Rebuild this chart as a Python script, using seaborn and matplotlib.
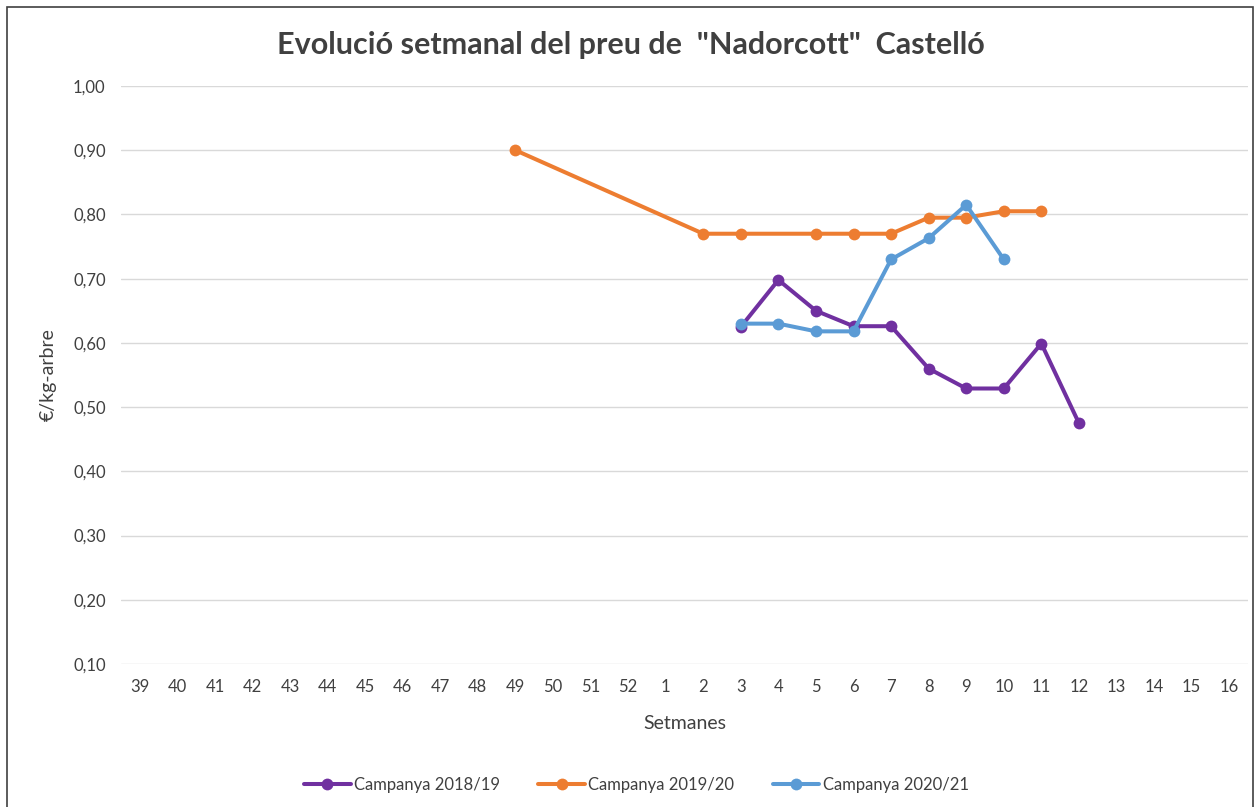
import numpy as np
import pandas as pd
import matplotlib
matplotlib.use("Agg")
import matplotlib.pyplot as plt
import seaborn as sns
from matplotlib.patches import Rectangle

# setmanes de campanya (eix x)
setmanes = ["39", "40", "41", "42", "43", "44", "45", "46", "47", "48", "49", "50", "51", "52",
            "1", "2", "3", "4", "5", "6", "7", "8", "9", "10", "11", "12", "13", "14", "15", "16"]

# preus (€/kg-arbre) per setmana; les setmanes que no hi son no tenen dada
preu_1819 = {"3": 0.625, "4": 0.698, "5": 0.650, "6": 0.626, "7": 0.626, "8": 0.560,
             "9": 0.529, "10": 0.529, "11": 0.599, "12": 0.475}
preu_1920 = {"49": 0.90, "2": 0.77, "3": 0.77, "5": 0.77, "6": 0.77, "7": 0.77,
             "8": 0.795, "9": 0.795, "10": 0.805, "11": 0.805}
preu_2021 = {"3": 0.630, "4": 0.630, "5": 0.618, "6": 0.618, "7": 0.730, "8": 0.763,
             "9": 0.815, "10": 0.730}

campanyes = ["Campanya 2018/19", "Campanya 2019/20", "Campanya 2020/21"]
colors = ["#7030A0", "#ED7D31", "#5B9BD5"]

files = []
for nom, preus in zip(campanyes, [preu_1819, preu_1920, preu_2021]):
    for s, v in preus.items():
        files.append({"Campanya": nom, "pos": setmanes.index(s), "preu": v})
df = pd.DataFrame(files)

sns.set_style("white")
plt.rcParams["font.family"] = ["Lato", "DejaVu Sans"]

fig = plt.figure(figsize=(12.55, 8.07), dpi=100)
ax = fig.add_axes([0.0964, 0.1772, 0.8980, 0.7162])

sns.lineplot(data=df, x="pos", y="preu", hue="Campanya", palette=colors,
             hue_order=campanyes, marker="o", markersize=8.5, markeredgewidth=0,
             linewidth=2.9, sort=True, ax=ax, legend=True)

ax.set_xlim(-0.5, len(setmanes) - 0.5)
ax.set_ylim(0.10, 1.00)
ax.set_xticks(range(len(setmanes)))
ax.set_xticklabels(setmanes)
yt = np.round(np.arange(0.10, 1.001, 0.10), 2)
ax.set_yticks(yt)
ax.set_yticklabels([f"{v:.2f}".replace(".", ",") for v in yt])
ax.tick_params(axis="both", labelsize=12, colors="#404040", length=0, pad=11)
ax.grid(axis="y", color="#D9D9D9", linewidth=1)
ax.set_axisbelow(True)
for sp in ax.spines.values():
    sp.set_visible(False)

ax.set_xlabel("Setmanes", fontsize=14, color="#404040", labelpad=14)
ax.set_ylabel("€/kg-arbre", fontsize=14, color="#404040", labelpad=12)

fig.suptitle('Evolució setmanal del preu de  "Nadorcott"  Castelló', x=0.503, y=0.962,
             fontsize=22, fontweight="bold", color="#404040")

h, l = ax.get_legend_handles_labels()
ax.legend(h, l, loc="center", bbox_to_anchor=(0.507, 0.027), bbox_transform=fig.transFigure,
          ncol=3, frameon=False, fontsize=12, handlelength=2.8, handletextpad=0.2,
          columnspacing=2.3, labelcolor="#404040")

fig.patches.append(Rectangle((7 / 1255, -0.01), 1246 / 1255, 1 - 7 / 807 + 0.01,
                             transform=fig.transFigure, fill=False,
                             edgecolor="#404040", linewidth=1.2))

fig.savefig("out.png", dpi=100)
